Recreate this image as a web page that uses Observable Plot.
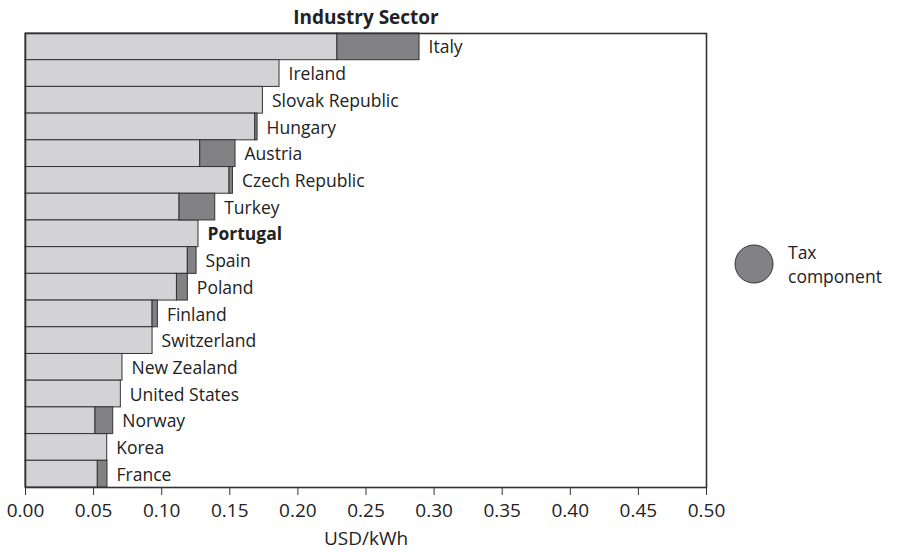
<!DOCTYPE html>
<html>
<head>
<meta charset="utf-8">
<script src="https://cdn.jsdelivr.net/npm/d3@7"></script>
<script src="https://cdn.jsdelivr.net/npm/@observablehq/plot@0.6"></script>
<style>
  body { margin: 0; background: #fff; font-family: "Open Sans", sans-serif; }
  #wrap { position: relative; width: 899px; height: 552px; }
  #legend { position: absolute; left: 734px; top: 240px; display: flex; align-items: center; color: #222; font-size: 17.5px; line-height: 24px; }
  #legend svg { margin-right: 14px; flex: none; }
</style>
</head>
<body>
<div id="wrap">
  <div id="chart"></div>
  <div id="legend">
    <svg width="40" height="40"><circle cx="20" cy="20" r="19" fill="#828285" stroke="#333" stroke-width="1"></circle></svg>
    <div><div>Tax</div><div>component</div></div>
  </div>
</div>
<script>
const countries = ["Italy","Ireland","Slovak Republic","Hungary","Austria","Czech Republic","Turkey","Portugal","Spain","Poland","Finland","Switzerland","New Zealand","United States","Norway","Korea","France"];
const preTax = [0.229,0.1865,0.1743,0.1687,0.1283,0.1498,0.1131,0.127,0.1192,0.1112,0.0933,0.0933,0.0712,0.070,0.0514,0.060,0.0531];
const tax    = [0.0603,0,0,0.0017,0.0259,0.0025,0.0262,0,0.0064,0.008,0.0039,0,0,0,0.013,0,0.0071];
const xTicks = [0,0.05,0.10,0.15,0.20,0.25,0.30,0.35,0.40,0.45,0.50];
const highlight = "Portugal";

const data = countries.map((c, i) => ({country: c, pre: preTax[i], tax: tax[i], total: preTax[i] + tax[i]}));
const taxed = data.filter(d => d.tax > 0);
const normal = data.filter(d => d.country !== highlight);
const bold = data.filter(d => d.country === highlight);

const chart = Plot.plot({
  width: 899,
  height: 552,
  marginLeft: 25,
  marginRight: 193,
  marginTop: 33,
  marginBottom: 65,
  style: {fontFamily: "Open Sans, sans-serif", color: "#222", background: "#fff"},
  x: {domain: [0, 0.5]},
  y: {domain: countries, padding: 0, round: false, axis: null},
  marks: [
    Plot.barX(data, {y: "country", x1: 0, x2: "pre", fill: "#d3d3d5", stroke: "#333", strokeWidth: 1}),
    Plot.barX(taxed, {y: "country", x1: "pre", x2: "total", fill: "#828285", stroke: "#333", strokeWidth: 1}),
    Plot.frame({stroke: "#333", strokeWidth: 1.6}),
    Plot.axisX({ticks: xTicks, tickFormat: d3.format(".2f"), tickSize: 8, fontSize: 19, tickPadding: 8, label: null, stroke: "#333"}),
    Plot.text(normal, {x: "total", y: "country", text: "country", textAnchor: "start", dx: 9, dy: 1, fontSize: 17.5, fill: "#222"}),
    Plot.text(bold, {x: "total", y: "country", text: "country", textAnchor: "start", dx: 9, dy: 1, fontSize: 17.5, fontWeight: "bold", fill: "#222"}),
    Plot.text(["Industry Sector"], {frameAnchor: "top", dy: -23, fontSize: 19, fontWeight: "bold", fill: "#222"}),
    Plot.text(["USD/kWh"], {frameAnchor: "bottom", dy: 57, fontSize: 19, fill: "#222"})
  ]
});
document.getElementById("chart").appendChild(chart);
</script>
</body>
</html>
